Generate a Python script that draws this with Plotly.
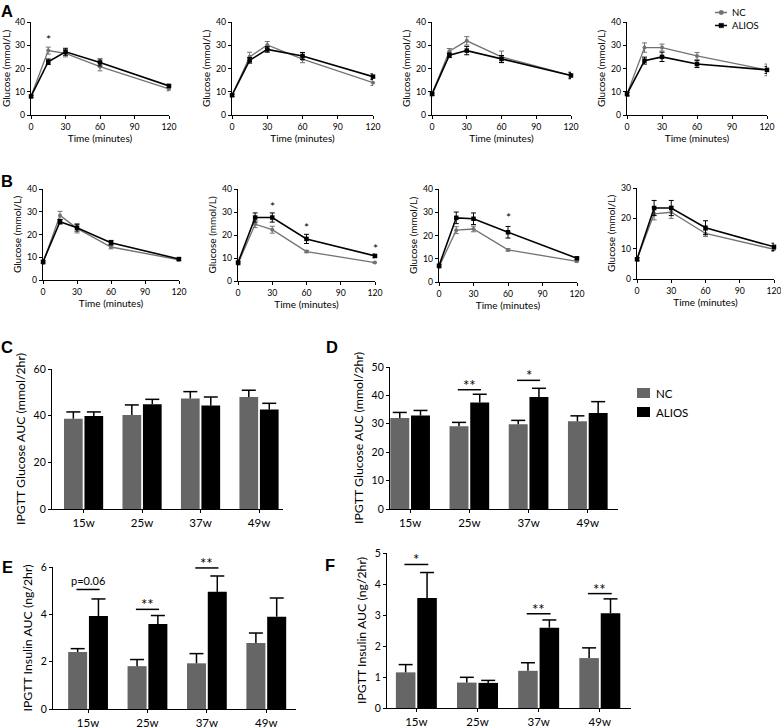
import plotly.graph_objects as go

W, H = 781, 728

# ---------------- data ----------------
times = [0, 15, 30, 60, 120]

# Row A (four ages), glucose mmol/L
A_nc = [[8.0, 27.7, 26.5, 20.8, 11.2],
        [8.5, 25.0, 30.1, 24.0, 13.9],
        [9.0, 27.4, 31.9, 25.0, 17.0],
        [9.0, 29.0, 29.0, 25.4, 19.4]]
A_nc_err = [[0.5, 1.5, 1.5, 1.8, 0.8],
            [0.5, 2.0, 1.5, 1.5, 1.2],
            [0.5, 1.2, 1.8, 2.5, 1.5],
            [0.8, 2.0, 1.5, 1.5, 2.5]]
A_al = [[8.0, 22.9, 27.2, 22.6, 12.5],
        [8.5, 23.5, 28.2, 25.4, 16.5],
        [9.0, 25.7, 27.7, 24.1, 17.0],
        [9.0, 23.4, 25.0, 21.9, 19.4]]
A_al_err = [[0.5, 1.2, 1.5, 1.5, 0.7],
            [0.5, 1.2, 1.2, 1.5, 1.2],
            [0.5, 1.0, 1.8, 1.5, 1.2],
            [0.8, 1.5, 2.0, 1.5, 1.5]]
A_stars = [[(15, 32.5)], [], [], []]

# Row B
B_nc = [[7.5, 28.4, 22.7, 14.5, 8.9],
        [7.5, 24.7, 22.3, 12.8, 8.0],
        [6.5, 22.3, 22.8, 13.8, 8.9],
        [6.5, 21.5, 22.0, 15.0, 9.8]]
B_nc_err = [[0.5, 1.8, 2.0, 0.8, 0.5],
            [0.5, 1.5, 1.5, 0.5, 0.3],
            [0.5, 1.5, 1.2, 0.5, 0.5],
            [0.5, 2.0, 2.0, 1.0, 0.7]]
B_al = [[8.0, 25.6, 23.0, 16.4, 9.2],
        [8.0, 27.6, 27.6, 18.3, 10.9],
        [7.0, 27.6, 27.2, 21.4, 10.2],
        [6.5, 23.4, 23.4, 16.9, 10.6]]
B_al_err = [[0.5, 1.0, 1.5, 1.0, 0.5],
            [0.5, 2.0, 2.0, 2.0, 0.8],
            [0.5, 2.5, 2.5, 2.5, 0.5],
            [0.5, 2.5, 2.5, 2.3, 1.2]]
B_stars = [[], [(30, 32.4), (60, 23.4), (120, 14.3)], [(60, 27.9)], []]
B_ymax = [40, 40, 40, 30]

# Bar panels
weeks = ["15w", "25w", "37w", "49w"]
C_nc, C_nc_err = [38.7, 40.3, 47.4, 48.0], [2.9, 4.3, 2.9, 2.9]
C_al, C_al_err = [39.9, 44.9, 44.4, 42.6], [1.7, 2.1, 3.6, 2.7]
D_nc, D_nc_err = [32.0, 29.1, 29.8, 30.9], [2.0, 1.4, 1.4, 1.9]
D_al, D_al_err = [32.9, 37.5, 39.4, 33.8], [1.8, 2.9, 3.1, 4.0]
E_nc, E_nc_err = [2.41, 1.81, 1.93, 2.79], [0.14, 0.28, 0.41, 0.42]
E_al, E_al_err = [3.93, 3.59, 4.95, 3.90], [0.72, 0.36, 0.67, 0.79]
F_nc, F_nc_err = [1.15, 0.82, 1.20, 1.61], [0.25, 0.17, 0.26, 0.33]
F_al, F_al_err = [3.55, 0.81, 2.59, 3.06], [0.82, 0.08, 0.25, 0.46]
C_sig = []
D_sig = [(1, 42.0, "**"), (2, 45.3, "*")]
E_sig = [(0, 5.05, "p=0.06"), (1, 4.21, "**"), (2, 5.96, "**")]
F_sig = [(0, 4.63, "*"), (2, 3.04, "**"), (3, 3.69, "**")]

groups = ["NC", "ALIOS"]

# ---------------- style ----------------
NC_LINE = "#727272"
NC_BAR = "#666666"
AL = "#000000"
FONT = "Lato, Open Sans, sans-serif"

fig = go.Figure()
layout = dict(width=W, height=H, margin=dict(l=0, r=0, t=0, b=0, autoexpand=False),
              autosize=False, paper_bgcolor="white", plot_bgcolor="white",
              font=dict(family=FONT, color="black"), barmode="overlay", showlegend=False,
              shapes=[], annotations=[])


def dom(x0, x1, yt, yb):
    return [x0 / W, x1 / W], [1 - yb / H, 1 - yt / H]


def px(x):
    return x / W


def py(y):
    return 1 - y / H


axis_common = dict(showline=True, linecolor="black", linewidth=1.3, ticks="outside",
                   ticklen=3, tickwidth=1.3, tickcolor="black", showgrid=False,
                   zeroline=False, fixedrange=True, automargin=False,
                   ticklabeloverflow="allow")

line_domains = [(31, 169, 22, 115), (232, 373, 22, 115), (432, 571, 22, 115), (627, 767, 22, 115),
                (43, 179, 189, 280), (238, 375, 189, 281), (439, 577, 189, 282), (637, 774, 188, 279)]

line_sets = [(A_nc[i], A_nc_err[i], A_al[i], A_al_err[i], A_stars[i], 40) for i in range(4)] + \
            [(B_nc[i], B_nc_err[i], B_al[i], B_al_err[i], B_stars[i], B_ymax[i]) for i in range(4)]

for k, (nc, nce, al, ale, stars, ymax) in enumerate(line_sets):
    n = k + 1
    xs = "x" if n == 1 else f"x{n}"
    ys = "y" if n == 1 else f"y{n}"
    xd, yd = dom(*line_domains[k])
    layout["xaxis" if n == 1 else f"xaxis{n}"] = dict(
        axis_common, domain=xd, anchor=ys, range=[0, 120], tickvals=[0, 30, 60, 90, 120],
        tickfont=dict(size=8.7), title=dict(text="Time (minutes)", font=dict(size=10), standoff=3))
    layout["yaxis" if n == 1 else f"yaxis{n}"] = dict(
        axis_common, domain=yd, anchor=xs, range=[0, ymax], dtick=10,
        tickfont=dict(size=8.7), title=dict(text="Glucose (mmol/L)", font=dict(size=10), standoff=3))
    fig.add_trace(go.Scatter(x=times, y=nc, mode="lines+markers", name=groups[0],
                             line=dict(color=NC_LINE, width=1.3),
                             marker=dict(symbol="circle", size=4, color=NC_LINE),
                             error_y=dict(type="data", array=nce, color=NC_LINE, thickness=1, width=2.5),
                             xaxis=xs, yaxis=ys, cliponaxis=False))
    fig.add_trace(go.Scatter(x=times, y=al, mode="lines+markers", name=groups[1],
                             line=dict(color=AL, width=1.6),
                             marker=dict(symbol="square", size=4.5, color=AL),
                             error_y=dict(type="data", array=ale, color=AL, thickness=1, width=2.5),
                             xaxis=xs, yaxis=ys, cliponaxis=False))
    for (sx, sy) in stars:
        layout["annotations"].append(dict(x=sx, y=sy, xref=xs, yref=ys, text="*", showarrow=False,
                                          font=dict(size=12, color="black"), yanchor="middle"))

bar_domains = [(52, 283, 369, 509), (390, 618, 367, 509), (53, 296, 567, 709), (387, 631, 553, 708)]
bar_xranges = [[-0.54, 3.41], [-0.34, 3.51], [-0.59, 3.5], [-0.48, 3.51]]
bar_sets = [
    (C_nc, C_nc_err, C_al, C_al_err, C_sig, [0, 60], 20, "IPGTT Glucose AUC (mmol/2hr)"),
    (D_nc, D_nc_err, D_al, D_al_err, D_sig, [0, 50], 10, "IPGTT Glucose AUC (mmol/2hr)"),
    (E_nc, E_nc_err, E_al, E_al_err, E_sig, [0, 6], 2, "IPGTT Insulin AUC (ng/2hr)"),
    (F_nc, F_nc_err, F_al, F_al_err, F_sig, [0, 5], 1, "IPGTT Insulin AUC (ng/2hr)"),
]
idx = list(range(len(weeks)))
OFF, BW = 0.175, 0.32

for k, (nc, nce, al, ale, sig, yr, dt, ytitle) in enumerate(bar_sets):
    n = 9 + k
    xs, ys = f"x{n}", f"y{n}"
    xd, yd = dom(*bar_domains[k])
    layout[f"xaxis{n}"] = dict(axis_common, domain=xd, anchor=ys, range=bar_xranges[k],
                               tickvals=idx, ticktext=weeks, tickfont=dict(size=11.5))
    layout[f"yaxis{n}"] = dict(axis_common, domain=yd, anchor=xs, range=yr, dtick=dt,
                               tickfont=dict(size=10.5),
                               title=dict(text=ytitle, font=dict(size=12.3), standoff=5))
    for vals, errs, col, name, sgn in [(nc, nce, NC_BAR, groups[0], -1), (al, ale, AL, groups[1], 1)]:
        xpos = [i + sgn * OFF for i in idx]
        fig.add_trace(go.Bar(x=xpos, y=vals, width=BW, marker=dict(color=col, line=dict(width=0)),
                             error_y=dict(type="data", symmetric=False, array=errs,
                                          arrayminus=[0] * len(errs), color="black",
                                          thickness=1.5, width=0),
                             name=name, xaxis=xs, yaxis=ys))
        fig.add_trace(go.Scatter(x=xpos, y=[v + e for v, e in zip(vals, errs)], mode="markers",
                                 marker=dict(symbol="line-ew", size=10,
                                             line=dict(color="black", width=1.5)),
                                 xaxis=xs, yaxis=ys, hoverinfo="skip", cliponaxis=False))
    for (ci, sy, txt) in sig:
        layout["shapes"].append(dict(type="line", xref=xs, yref=ys, x0=ci - OFF - 0.02,
                                     x1=ci + OFF + 0.02, y0=sy, y1=sy,
                                     line=dict(color="black", width=1.5)))
        is_star = txt.startswith("*")
        layout["annotations"].append(dict(x=ci, y=sy, xref=xs, yref=ys, text=txt, showarrow=False,
                                          yanchor="middle", yshift=5 if is_star else 9,
                                          font=dict(size=15 if is_star else 11, color="black")))

# ---------------- legends (drawn as shapes + text) ----------------
# line-chart legend
for name, col, yy, sym in [(groups[0], NC_LINE, 12.5, "circle"), (groups[1], AL, 25.5, "rect")]:
    layout["shapes"].append(dict(type="line", xref="paper", yref="paper", x0=px(715), x1=px(727),
                                 y0=py(yy), y1=py(yy), line=dict(color=col, width=1.5)))
    layout["shapes"].append(dict(type=sym, xref="paper", yref="paper", x0=px(719), x1=px(723.5),
                                 y0=py(yy + 2.2), y1=py(yy - 2.2), fillcolor=col,
                                 line=dict(color=col, width=0.5)))
    layout["annotations"].append(dict(x=px(730), y=py(yy), xref="paper", yref="paper", text=name,
                                      showarrow=False, xanchor="left", yanchor="middle",
                                      font=dict(size=9.5, color="black")))
# bar-chart legend
for name, col, yy in [(groups[0], NC_BAR, 393), (groups[1], AL, 412)]:
    layout["shapes"].append(dict(type="rect", xref="paper", yref="paper", x0=px(637), x1=px(650),
                                 y0=py(yy + 5), y1=py(yy - 5), fillcolor=col, line=dict(width=0)))
    layout["annotations"].append(dict(x=px(654), y=py(yy), xref="paper", yref="paper", text=name,
                                      showarrow=False, xanchor="left", yanchor="middle",
                                      font=dict(size=11.5, color="black")))

# panel letters
for letter, cx, cy, anc in [("A", 7, 0, "top"), ("B", 7, 181, "middle"), ("C", 7, 347, "middle"),
                            ("D", 332, 347, "middle"), ("E", 7, 567, "middle"),
                            ("F", 330, 565, "middle")]:
    layout["annotations"].append(dict(x=px(cx), y=py(cy), xref="paper", yref="paper",
                                      text=f"<b>{letter}</b>", showarrow=False,
                                      xanchor="center", yanchor=anc,
                                      font=dict(family="Liberation Sans, Arial, sans-serif",
                                                size=16.5, color="black")))

fig.update_layout(**layout)
fig.write_html("out.html", config={"displayModeBar": False},
               post_script="document.body.style.margin='0';document.body.style.padding='0';"
                           "document.documentElement.style.overflow='hidden';")
